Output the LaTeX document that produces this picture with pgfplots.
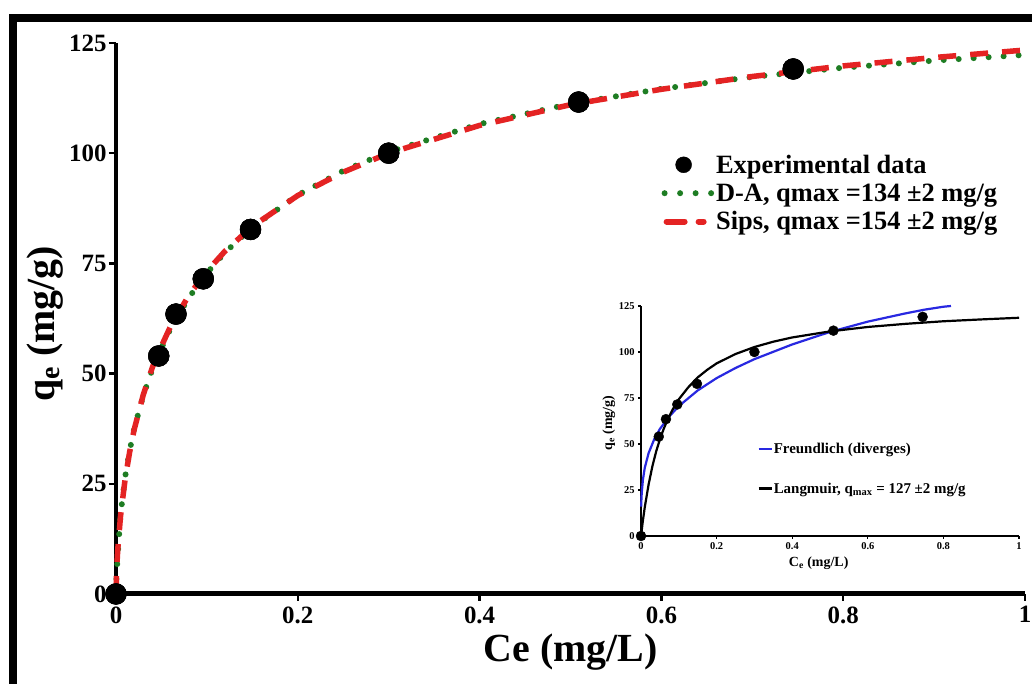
\documentclass[border=0pt]{standalone}
\usepackage{fontspec}
\setmainfont{Liberation Serif}
\usepackage{pgfplots}
\pgfplotsset{compat=1.18}
\definecolor{dagreen}{RGB}{30,125,35}
\definecolor{sipsred}{RGB}{228,35,35}
\definecolor{frblue}{RGB}{40,40,225}

\pgfplotstableread{
c q
0 0
0.047 54
0.066 63.5
0.096 71.5
0.148 82.7
0.300 100
0.509 111.6
0.745 119.1
}\expdata

\pgfplotstableread{
c q
0 0
0.0005 4.4
0.001 6.7
0.002 10.3
0.005 17.7
0.01 26.0
0.015 32.2
0.02 37.3
0.03 45.2
0.04 51.4
0.045 54.0
0.06 60.7
0.08 67.7
0.10 73.2
0.12 77.8
0.15 83.4
0.20 90.4
0.25 95.7
0.30 100.0
0.40 106.3
0.50 111.0
0.60 114.5
0.70 117.4
0.80 119.8
0.90 121.7
1.00 123.4
}\sipsdata

\pgfplotstableread{
c q
0 0
0.0005 3.5
0.001 5.5
0.002 9.0
0.005 18.0
0.01 26.5
0.015 32.5
0.02 37.5
0.03 45.0
0.04 51.0
0.045 53.6
0.06 60.2
0.08 67.2
0.10 72.8
0.12 77.5
0.15 83.2
0.20 90.5
0.25 96.0
0.30 100.3
0.40 106.6
0.50 111.2
0.60 114.6
0.70 117.3
0.80 119.4
0.90 121.0
1.00 122.3
}\dadata

\pgfplotstableread{
c q
0.0005 16.0
0.001 19.5
0.002 23.6
0.005 30.5
0.01 37.1
0.02 45.0
0.035 52.6
0.05 58.2
0.075 65.0
0.10 70.6
0.15 79.1
0.20 85.8
0.25 91.3
0.30 96.1
0.40 104.1
0.50 110.9
0.60 116.5
0.70 121.0
0.75 123.0
0.80 124.6
0.82 125.0
}\frdata

\pgfplotstableread{
c q
0 0
0.005 8.4
0.01 15.7
0.02 27.9
0.03 37.8
0.04 45.9
0.05 52.5
0.06 58.2
0.07 63.1
0.085 69.2
0.10 74.3
0.125 80.8
0.15 86.2
0.175 90.3
0.20 93.8
0.25 98.9
0.30 102.7
0.35 105.6
0.40 107.9
0.50 111.2
0.60 113.6
0.70 115.3
0.80 116.7
0.90 117.7
1.00 118.6
}\lgdata

\begin{document}
\begin{tikzpicture}[x=1bp,y=1bp]
\useasboundingbox (0,0) rectangle (1032,684);
\clip (0,0) rectangle (1032,684);
\fill[white] (0,0) rectangle (1032,684);
\draw[line width=8bp] (13,-20) -- (13,666) -- (1100,666);

% main axis
\begin{axis}[
  at={(116bp,90bp)}, anchor=south west,
  scale only axis, width=909bp, height=551bp,
  xmin=0, xmax=1, ymin=0, ymax=125,
  axis x line*=bottom, axis y line*=left,
  x axis line style={line width=5bp},
  y axis line style={line width=3.5bp},
  xtick={0,0.2,0.4,0.6,0.8,1}, ytick={0,25,50,75,100,125},
  tick align=outside, major tick length=7bp,
  every tick/.style={black, line width=2.5bp},
  /pgf/number format/assume math mode=true,
  ticklabel style={font=\fontsize{25}{28}\selectfont\bfseries},
  xticklabel style={yshift=-2bp},
  yticklabel style={xshift=1bp},
  xlabel={Ce (mg/L)},
  ylabel={q\textsubscript{e} (mg/g)},
  label style={font=\fontsize{40}{44}\selectfont\bfseries},
  xlabel style={at={(axis description cs:0.5,-0.105)}, anchor=center},
  ylabel style={at={(axis description cs:-0.078,0.49)}, anchor=center, rotate=0},
  clip=false,
  legend cell align=left,
  legend style={at={(0.60,0.80)}, anchor=north west, draw=none, fill=none,
    font=\fontsize{26.5}{30}\selectfont\bfseries, row sep=6bp,
    inner sep=0pt, nodes={inner sep=1.5bp}},
]
\addplot[only marks, mark=*, mark size=10.5bp, black,
  legend image code/.code={\fill[black] (20bp,0bp) circle (8bp);}]
  table[x=c,y=q] {\expdata};
\addlegendentry{Experimental data}
\addplot[dagreen, line width=6bp, line cap=round, dash pattern=on 0bp off 15bp, no marks,
  legend image code/.code={\draw[dagreen, line width=6bp, line cap=round, dash pattern=on 0bp off 15.5bp] (1bp,0bp) -- (48bp,0bp);}]
  table[x=c,y=q] {\dadata};
\addlegendentry{D-A, qmax =134 ±2 mg/g}
\addplot[sipsred, line width=5.5bp, dash pattern=on 18bp off 14bp, no marks,
  legend image code/.code={\draw[sipsred, line width=6bp, line cap=round] (3bp,0bp) -- (40bp,0bp);}]
  table[x=c,y=q] {\sipsdata};
\addlegendentry{Sips, qmax =154 ±2 mg/g}
\addplot[only marks, mark=*, mark size=10.5bp, black, forget plot]
  table[x=c,y=q] {\expdata};
\end{axis}

% inset axis
\begin{axis}[
  at={(641bp,148bp)}, anchor=south west,
  scale only axis, width=378bp, height=230bp,
  xmin=0, xmax=1, ymin=0, ymax=125,
  axis x line*=bottom, axis y line*=left,
  x axis line style={line width=2.5bp},
  y axis line style={line width=1.6bp},
  xtick={0,0.2,0.4,0.6,0.8,1}, ytick={0,25,50,75,100,125},
  tick align=outside, major tick length=3bp,
  every tick/.style={black, line width=1.2bp},
  /pgf/number format/assume math mode=true,
  ticklabel style={font=\fontsize{10.5}{12}\selectfont\bfseries},
  xlabel={C\textsubscript{e} (mg/L)},
  ylabel={q\textsubscript{e} (mg/g)},
  label style={font=\fontsize{14}{16}\selectfont\bfseries},
  xlabel style={at={(axis description cs:0.47,-0.118)}, anchor=center},
  ylabel style={at={(axis description cs:-0.085,0.49)}, anchor=center},
  clip=false,
  legend cell align=left,
  legend style={at={(0.307,0.41)}, anchor=north west, draw=none, fill=none,
    font=\fontsize{15}{17}\selectfont\bfseries, row sep=26bp,
    inner sep=0pt, nodes={inner sep=1bp}},
]
\addplot[frblue, line width=2.2bp, no marks, line join=round,
  legend image code/.code={\draw[frblue, line width=2.5bp] (0bp,0bp) -- (13bp,0bp);}]
  table[x=c,y=q] {\frdata};
\addlegendentry{Freundlich (diverges)}
\addplot[black, line width=2.2bp, no marks, line join=round,
  legend image code/.code={\draw[black, line width=2.5bp] (0bp,0bp) -- (13bp,0bp);}]
  table[x=c,y=q] {\lgdata};
\addlegendentry{Langmuir, q\textsubscript{max} = 127 ±2 mg/g}
\addplot[only marks, mark=*, mark size=5bp, black, forget plot]
  table[x=c,y=q] {\expdata};
\end{axis}
\end{tikzpicture}
\end{document}
